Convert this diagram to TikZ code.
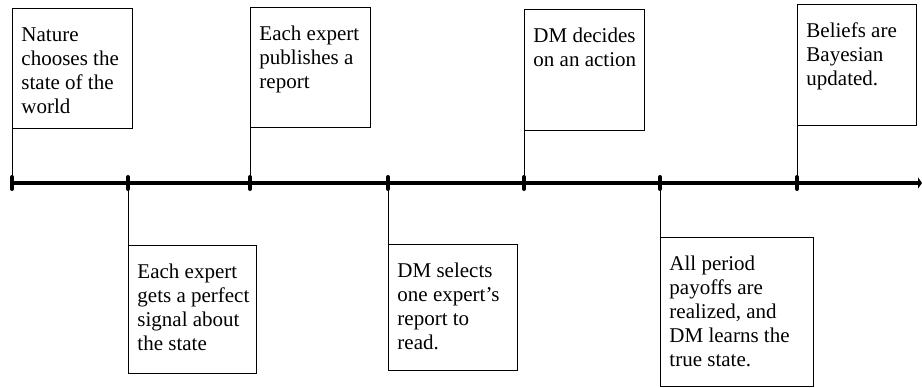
\documentclass[tikz,border=0pt]{standalone}
\usepackage{fontspec}
\setmainfont{Liberation Serif}
\usetikzlibrary{arrows.meta}
\newcommand{\evtext}[1]{\begin{tabular}[t]{@{}l@{}}#1\end{tabular}}

\begin{document}
\begin{tikzpicture}[x=1pt, y=-1pt, semithick, every node/.style={font=\fontsize{21}{24}\selectfont}]
    \tikzset{event/.style 2 args={draw=black, line width=0.9pt, anchor=north west, align=flush left, inner xsep=9pt, inner ysep=0pt, text height=33pt, text width=#1, text depth=#2}};
    \tikzset{tick/.style={line width=4pt, line cap=round}};
    \useasboundingbox (0,0) rectangle (922,388);
    % time line
    \coordinate (tA) at (12,183);
    \coordinate (tB) at (128,183);
    \coordinate (tC) at (250,183);
    \coordinate (tD) at (388,183);
    \coordinate (tE) at (524,183);
    \coordinate (tF) at (660,183);
    \coordinate (tG) at (797,183);
    \coordinate (tEnd) at (922,183);
    \draw[line width=4.8pt, -{Triangle[length=4pt,width=11pt]}] (tA) -- (tEnd);
    \foreach \t in {tA,tB,tC,tD,tE,tF,tG}
      \draw[tick] ([yshift=6pt]\t) -- ([yshift=-6pt]\t);
    % events above
    \node[event={102pt}{87pt}] (eNat) at (12,8) {\evtext{Nature\\chooses the\\state of the\\world}};
    \node[event={102pt}{87pt}] (ePub) at (250,7) {\evtext{Each expert\\publishes a\\report}};
    \node[event={102pt}{88pt}] (eAct) at (524,9) {\evtext{DM decides\\on an action}};
    \node[event={101pt}{88pt}] (eBel) at (797,4) {\evtext{Beliefs are\\Bayesian\\updated.}};
    % events below
    \node[event={110pt}{95pt}] (eSig) at (128,245) {\evtext{Each expert\\gets a perfect\\signal about\\the state}};
    \node[event={111pt}{93pt}] (eSel) at (388,244) {\evtext{DM selects\\one expert's\\report to\\read.}};
    \node[event={135pt}{116pt}] (ePay) at (660,237) {\evtext{All period\\payoffs are\\realized, and\\DM learns the\\true state.}};
    {
      \path[draw, line width=0.9pt]
        (tA) edge (eNat.south west)
        (tC) edge (ePub.south west)
        (tE) edge (eAct.south west)
        (tG) edge (eBel.south west)
        (tB) edge (eSig.north west)
        (tD) edge (eSel.north west)
        (tF) edge (ePay.north west)
        ;
      }
    \end{tikzpicture}
\end{document}
